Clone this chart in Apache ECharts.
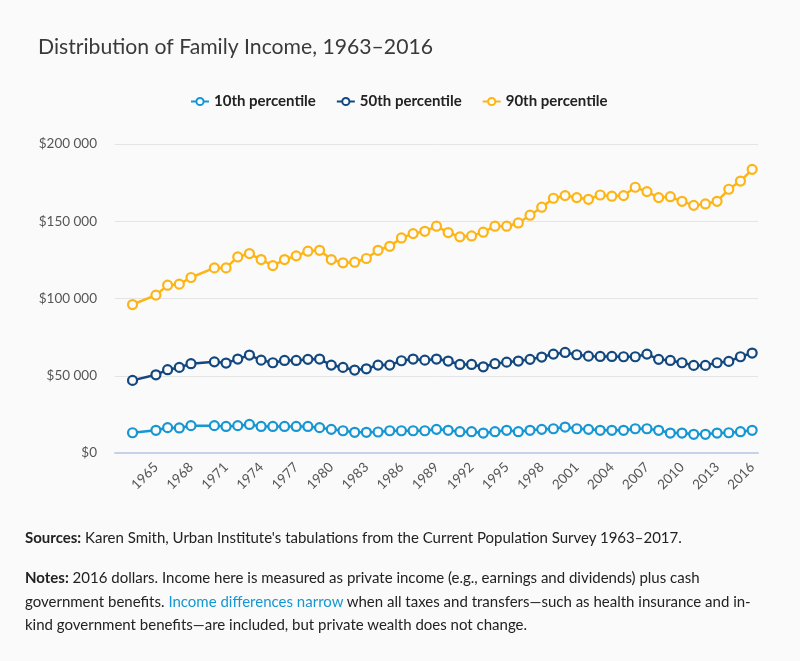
<!DOCTYPE html>
<html>
<head>
<meta charset="utf-8">
<script src="https://cdn.jsdelivr.net/npm/echarts@6/dist/echarts.min.js"></script>
<style>
  html, body { margin: 0; padding: 0; background: #fafafa; }
  #wrap { position: relative; width: 800px; height: 661px; font-family: Lato, sans-serif; }
  #myEcharts { position: absolute; left: 0; top: 0; width: 800px; height: 661px; }
  .note { position: absolute; left: 25px; font-size: 15px; color: #222; white-space: nowrap; line-height: 23.5px; }
  .note b { font-weight: 700; }
  .note a { color: #1696d2; text-decoration: none; }
</style>
</head>
<body>
<div id="wrap">
  <div id="myEcharts"></div>
  <div class="note" style="top:526px"><b>Sources:</b> Karen Smith, Urban Institute's tabulations from the Current Population Survey 1963–2017.</div>
  <div class="note" style="top:566px">
    <b>Notes:</b> 2016 dollars. Income here is measured as private income (e.g., earnings and dividends) plus cash<br>
    government benefits. <a href="#">Income differences narrow</a> when all taxes and transfers—such as health insurance and in-<br>
    kind government benefits—are included, but private wealth does not change.
  </div>
</div>
<script>
// years on the axis (1962 is an empty slot, 1964 and 1969 have no data)
const years = [];
for (let y = 1962; y <= 2016; y++) years.push(String(y));

const dataYears = [1963, 1965, 1966, 1967, 1968, 1970, 1971, 1972, 1973, 1974, 1975, 1976, 1977, 1978, 1979,
  1980, 1981, 1982, 1983, 1984, 1985, 1986, 1987, 1988, 1989, 1990, 1991, 1992, 1993, 1994, 1995, 1996,
  1997, 1998, 1999, 2000, 2001, 2002, 2003, 2004, 2005, 2006, 2007, 2008, 2009, 2010, 2011, 2012, 2013,
  2014, 2015, 2016];

const p10 = [13100, 14700, 16400, 16200, 17700, 17700, 17200, 17700, 18500, 17200, 17200, 17200, 17200, 17200, 16400,
  15300, 14400, 13400, 13400, 13600, 14400, 14400, 14400, 14400, 15300, 14700, 13800, 13800, 12900, 13800, 14700, 13800,
  14700, 15300, 15700, 16800, 15700, 15300, 14700, 14700, 14700, 15700, 15700, 14700, 12900, 12900, 12100, 12100, 12900,
  13100, 13800, 14700];

const p50 = [47000, 50600, 53900, 55400, 57800, 59000, 58200, 60800, 63400, 60100, 58400, 59900, 59900, 60600, 60800,
  56900, 55400, 53700, 54500, 56900, 56900, 59700, 60800, 60100, 60800, 59500, 57300, 57300, 55800, 57800, 58800, 59500,
  60600, 62100, 64000, 65100, 63600, 62700, 62500, 62500, 62300, 62300, 64000, 60600, 59900, 58400, 56700, 56700, 58400,
  59300, 62300, 64700];

const p90 = [96100, 102200, 108600, 109300, 113600, 119800, 119800, 126900, 129100, 125200, 121300, 125200, 127600, 130600, 131200,
  125200, 123100, 123500, 125900, 131200, 133800, 139200, 142000, 143500, 146800, 142700, 139900, 140500, 142900, 146800, 146800, 148900,
  153900, 159100, 164900, 166600, 165300, 164200, 167000, 166200, 166600, 172000, 169200, 165300, 165900, 162900, 160300, 161200, 162900,
  170700, 176000, 183600];

const yTicks = [0, 50000, 100000, 150000, 200000];

// put the values in the year slots, null where there is no data
function toSlots(values) {
  const out = years.map(() => null);
  dataYears.forEach((y, i) => { out[y - 1962] = values[i]; });
  return out;
}

function money(v) {
  if (v === 0) return "$0";
  return "$" + String(v).replace(/\B(?=(\d{3})+(?!\d))/g, " ");
}

const chart = echarts.init(document.getElementById("myEcharts"));

function lineSeries(name, color, values) {
  return {
    name: name,
    type: "line",
    data: toSlots(values),
    connectNulls: true,
    symbol: "circle",
    symbolSize: 9,
    showSymbol: true,
    showAllSymbol: true,
    lineStyle: { color: color, width: 2.5 },
    itemStyle: { color: "#fafafa", borderColor: color, borderWidth: 2.2 },
    emphasis: { disabled: true },
  };
}

chart.setOption({
  backgroundColor: "#fafafa",
  animation: false,
  textStyle: { fontFamily: "Lato" },
  title: {
    text: "Distribution of Family Income, 1963–2016",
    left: 33,
    top: 32,
    textStyle: { fontFamily: "Lato", fontSize: 21.2, fontWeight: "normal", color: "#3a3a3a" },
  },
  legend: {
    top: 89,
    left: 185,
    itemWidth: 18,
    itemHeight: 9,
    itemGap: 20,
    textStyle: { fontFamily: "Lato", fontSize: 15, fontWeight: "bold", color: "#222" },
    data: ["10th percentile", "50th percentile", "90th percentile"],
  },
  grid: { left: 115, right: 42, top: 144, bottom: 208, containLabel: false },
  xAxis: {
    type: "category",
    data: years,
    boundaryGap: true,
    axisLine: { lineStyle: { color: "#c7d2e8", width: 2 } },
    axisTick: { show: false },
    axisLabel: {
      interval: (idx) => idx > 0 && idx % 3 === 0,
      rotate: 45,
      margin: 12,
      fontSize: 13.5,
      color: "#555",
      fontFamily: "Lato",
    },
  },
  yAxis: {
    type: "value",
    min: yTicks[0],
    max: yTicks[yTicks.length - 1],
    interval: 50000,
    axisLine: { show: false },
    axisTick: { show: false },
    splitLine: { lineStyle: { color: "#e4e4e4", width: 1 } },
    axisLabel: { formatter: money, fontSize: 13.5, color: "#555", margin: 18, fontFamily: "Lato" },
  },
  series: [
    lineSeries("10th percentile", "#1696d2", p10),
    lineSeries("50th percentile", "#12487f", p50),
    lineSeries("90th percentile", "#fdb515", p90),
  ],
});
</script>
</body>
</html>
